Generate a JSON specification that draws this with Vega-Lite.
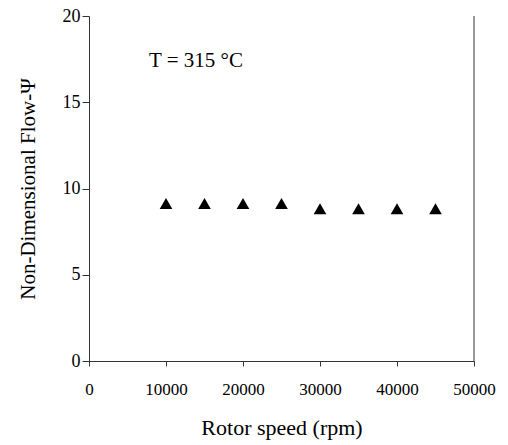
{
  "$schema": "https://vega.github.io/schema/vega-lite/v6.json",
  "width": 385,
  "height": 345,
  "autosize": {"type": "none"},
  "padding": {"left": 89, "top": 16, "right": 34, "bottom": 84},
  "background": "white",
  "config": {
    "view": {"stroke": null},
    "font": "'Liberation Serif', 'Times New Roman', serif",
    "axis": {
      "labelFont": "'Liberation Serif', 'Times New Roman', serif",
      "titleFont": "'Liberation Serif', 'Times New Roman', serif",
      "labelColor": "black",
      "titleColor": "black",
      "domainColor": "#333333",
      "tickColor": "#333333",
      "domainWidth": 1,
      "tickWidth": 1,
      "grid": false,
      "titleFontWeight": "normal"
    }
  },
  "layer": [
    {
      "data": {
        "values": [
          {"rpm": 10000, "psi": 9.13},
          {"rpm": 15000, "psi": 9.13},
          {"rpm": 20000, "psi": 9.13},
          {"rpm": 25000, "psi": 9.13},
          {"rpm": 30000, "psi": 8.83},
          {"rpm": 35000, "psi": 8.83},
          {"rpm": 40000, "psi": 8.83},
          {"rpm": 45000, "psi": 8.83}
        ]
      },
      "mark": {"type": "point", "shape": "triangle-up", "filled": true, "color": "black", "opacity": 1, "size": 160},
      "encoding": {
        "x": {
          "field": "rpm",
          "type": "quantitative",
          "scale": {"domain": [0, 50000], "nice": false},
          "axis": {
            "values": [0, 10000, 20000, 30000, 40000, 50000],
            "format": "d",
            "title": "Rotor speed (rpm)",
            "labelFontSize": 17,
            "titleFontSize": 22,
            "tickSize": 5,
            "labelPadding": 15,
            "titlePadding": 20,
            "labelFlush": false
          }
        },
        "y": {
          "field": "psi",
          "type": "quantitative",
          "scale": {"domain": [0, 20], "nice": false},
          "axis": {
            "values": [0, 5, 10, 15, 20],
            "title": "Non-Dimensional Flow-Ψ",
            "labelFontSize": 18,
            "titleFontSize": 21,
            "tickSize": 7,
            "labelPadding": 2,
            "titlePadding": 24,
            "labelFlush": false
          }
        }
      }
    },
    {
      "data": {"values": [{"rpm": 7800, "psi": 17.4, "label": "T = 315 °C"}]},
      "mark": {"type": "text", "align": "left", "baseline": "middle", "fontSize": 21, "font": "'Liberation Serif', 'Times New Roman', serif", "color": "black"},
      "encoding": {
        "x": {"field": "rpm", "type": "quantitative"},
        "y": {"field": "psi", "type": "quantitative"},
        "text": {"field": "label"}
      }
    },
    {
      "data": {"values": [{"rpm": 50000, "lo": 0, "hi": 20}]},
      "mark": {"type": "rule", "color": "#333333", "strokeWidth": 1},
      "encoding": {
        "x": {"field": "rpm", "type": "quantitative"},
        "y": {"field": "lo", "type": "quantitative"},
        "y2": {"field": "hi"}
      }
    }
  ]
}
